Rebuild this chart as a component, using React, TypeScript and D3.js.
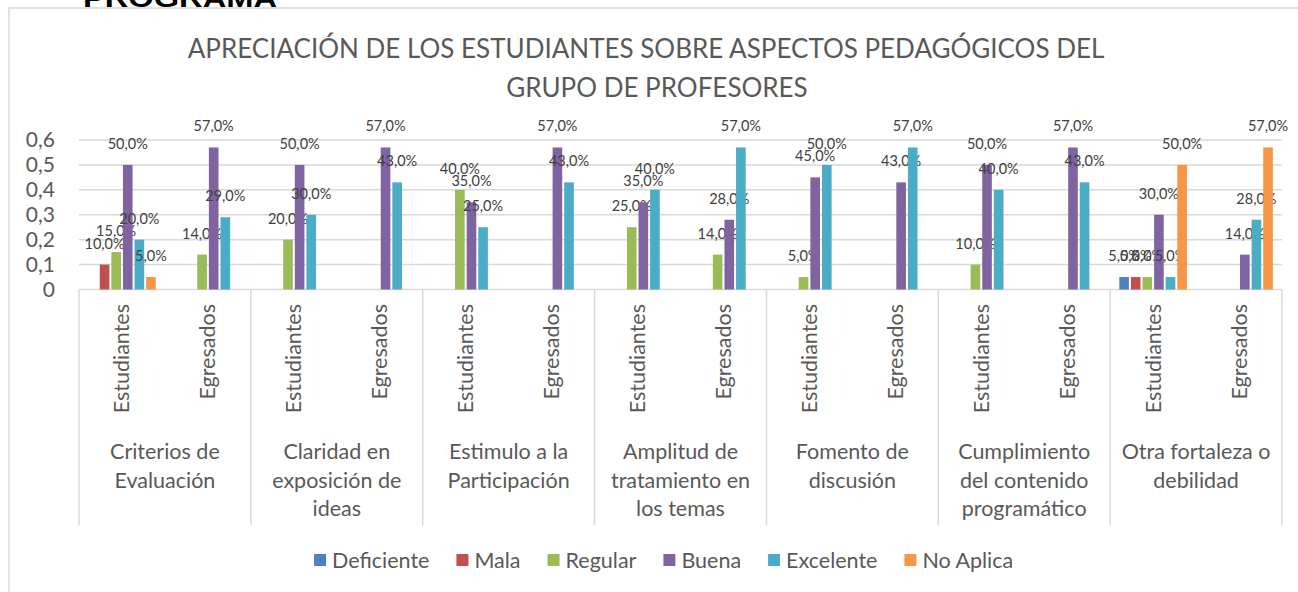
import * as d3 from "d3";

// Datos
const categories = [
  "Criterios de\nEvaluación",
  "Claridad en\nexposición de\nideas",
  "Estimulo a la\nParticipación",
  "Amplitud de\ntratamiento en\nlos temas",
  "Fomento de\ndiscusión",
  "Cumplimiento\ndel contenido\nprogramático",
  "Otra fortaleza o\ndebilidad",
];
const groups = ["Estudiantes", "Egresados"];
const series = ["Deficiente", "Mala", "Regular", "Buena", "Excelente", "No Aplica"];
const colors = ["#4F81BD", "#C0504D", "#9BBB59", "#8064A2", "#4BACC6", "#F79646"];

// one value per (category, group), in order
const deficiente = [null, null, null, null, null, null, null, null, null, null, null, null, 0.05, null];
const mala = [0.1, null, null, null, null, null, null, null, null, null, null, null, 0.05, null];
const regular = [0.15, 0.14, 0.2, null, 0.4, null, 0.25, 0.14, 0.05, null, 0.1, null, 0.05, null];
const buena = [0.5, 0.57, 0.5, 0.57, 0.35, 0.57, 0.35, 0.28, 0.45, 0.43, 0.5, 0.57, 0.3, 0.14];
const excelente = [0.2, 0.29, 0.3, 0.43, 0.25, 0.43, 0.4, 0.57, 0.5, 0.57, 0.4, 0.43, 0.05, 0.28];
const noAplica = [0.05, null, null, null, null, null, null, null, null, null, null, null, 0.5, 0.57];
const values = [deficiente, mala, regular, buena, excelente, noAplica];

const yTicks = [0, 0.1, 0.2, 0.3, 0.4, 0.5, 0.6];

const W = 1298;
const H = 592;
const fontName = "Lato";
const font = "Lato, 'Open Sans', sans-serif";
const grey = "#D9D9D9";
const textColor = "#595959";

function measure(text: string, size: number) {
  const ctx = document.createElement("canvas").getContext("2d");
  if (!ctx) return text.length * size * 0.5;
  ctx.font = `${size}px ${fontName}`;
  return ctx.measureText(text).width;
}

export default function App() {
  const left = 79;
  const right = 1282;
  const y = d3.scaleLinear().domain([0, 0.6]).range([289.5, 140]);
  const x0 = d3.scaleBand<string>().domain(categories).range([left, right]);
  const x1 = d3.scaleBand<string>().domain(groups).range([0, x0.bandwidth()]);
  const gw = x1.bandwidth();
  const x2 = d3
    .scaleBand<string>()
    .domain(series)
    .range([gw * 0.095, gw * 0.905])
    .paddingInner(0.17)
    .paddingOuter(0.085);
  const fmt = (v: number) => d3.format(".1f")(v * 100).replace(".", ",") + "%";
  const yFmt = (v: number) => (v === 0 ? "0" : d3.format(".1f")(v).replace(".", ","));

  // legend layout
  const legFont = 21.5;
  const sq = 12;
  const itemW = series.map((s) => sq + 6 + measure(s, legFont));
  const legGap = 27;
  const legTotal = d3.sum(itemW) + legGap * (series.length - 1);
  let lx = 664 - legTotal / 2;
  const legX = itemW.map((w) => {
    const p = lx;
    lx += w + legGap;
    return p;
  });

  return (
    <svg
      width={W}
      height={H}
      style={{ position: "absolute", left: 0, top: 0, display: "block", background: "#fff" }}
    >
      <text x={83} y={7} fontFamily="'Liberation Sans', Arial, sans-serif" fontWeight="bold" fontSize={25} textLength={194} lengthAdjust="spacingAndGlyphs" fill="#000">
        PROGRAMA
      </text>
      <rect x={9} y={8} width={W} height={H} fill="#fff" stroke={grey} strokeWidth={1.5} />

      <text x={646} y={58} textAnchor="middle" fontFamily={font} fontSize={26} fill={textColor}>
        APRECIACIÓN DE LOS ESTUDIANTES SOBRE ASPECTOS PEDAGÓGICOS DEL
      </text>
      <text x={657} y={97} textAnchor="middle" fontFamily={font} fontSize={26} fill={textColor}>
        GRUPO DE PROFESORES
      </text>

      {/* grid */}
      {yTicks.map((t) => (
        <g key={t}>
          <line x1={left} x2={right} y1={y(t)} y2={y(t)} stroke={grey} strokeWidth={1.5} />
          <text x={55} y={y(t)} dy="0.35em" textAnchor="end" fontFamily={font} fontSize={21} fill={textColor}>
            {yFmt(t)}
          </text>
        </g>
      ))}

      {/* category separators */}
      {d3.range(categories.length + 1).map((i) => {
        const xx = left + i * x0.step();
        return <line key={i} x1={xx} x2={xx} y1={y(0)} y2={525} stroke={grey} strokeWidth={1.5} />;
      })}

      {/* bars */}
      {categories.map((c, ci) =>
        groups.map((g, gi) => {
          const idx = ci * groups.length + gi;
          const gx = (x0(c) ?? 0) + (x1(g) ?? 0);
          return (
            <g key={c + g} transform={`translate(${gx},0)`}>
              {series.map((s, si) => {
                const v = values[si][idx];
                if (v == null) return null;
                const bx = x2(s) ?? 0;
                return (
                  <g key={s}>
                    <rect x={bx} y={y(v)} width={x2.bandwidth()} height={y(0) - y(v)} fill={colors[si]} />
                    <text
                      x={bx + x2.bandwidth() / 2}
                      y={y(v) - 16}
                      textAnchor="middle"
                      fontFamily={font}
                      fontSize={14.5}
                      fill="#404040"
                    >
                      {fmt(v)}
                    </text>
                  </g>
                );
              })}
              <text
                transform={`translate(${gw / 2},304) rotate(-90)`}
                textAnchor="end"
                dy="0.35em"
                fontFamily={font}
                fontSize={21.5}
                fill={textColor}
              >
                {g}
              </text>
            </g>
          );
        })
      )}

      {/* category labels */}
      {categories.map((c) => (
        <text key={c} textAnchor="middle" fontFamily={font} fontSize={21.5} fill={textColor}>
          {c.split("\n").map((line, li) => (
            <tspan key={li} x={(x0(c) ?? 0) + x0.bandwidth() / 2} y={459 + li * 28.5}>
              {line}
            </tspan>
          ))}
        </text>
      ))}

      {/* legend */}
      {series.map((s, i) => (
        <g key={s} transform={`translate(${legX[i]},560)`}>
          <rect x={0} y={-sq / 2} width={sq} height={sq} fill={colors[i]} />
          <text x={sq + 6} y={0} dy="0.35em" fontFamily={font} fontSize={legFont} fill={textColor}>
            {s}
          </text>
        </g>
      ))}
    </svg>
  );
}
